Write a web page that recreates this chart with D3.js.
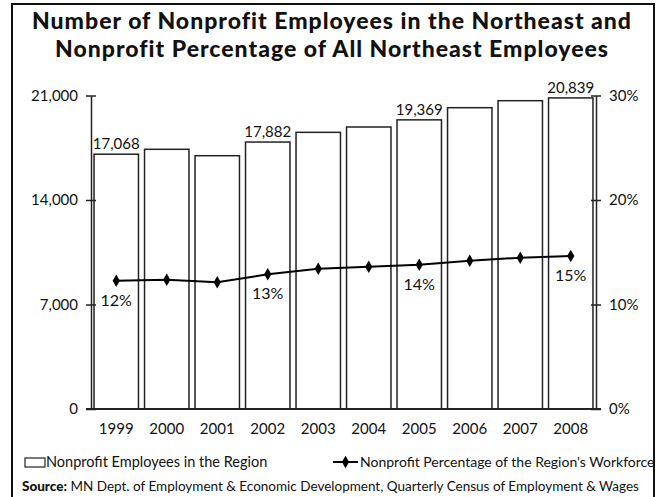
<!DOCTYPE html>
<html>
<head>
<meta charset="utf-8">
<script src="https://cdn.jsdelivr.net/npm/d3@7"></script>
<style>
  body { margin: 0; background: #fff; overflow: hidden; }
  svg { display: block; }
  text { font-family: Lato, "Noto Sans", sans-serif; fill: #111; }
</style>
</head>
<body>
<svg id="chart"></svg>
<script>
// Data
const years = ["1999", "2000", "2001", "2002", "2003", "2004", "2005", "2006", "2007", "2008"];
const employees = [17068, 17396, 16967, 17882, 18532, 18890, 19369, 20183, 20651, 20839];
const percent = [12.28, 12.37, 12.12, 12.89, 13.43, 13.62, 13.81, 14.19, 14.48, 14.64];
const labeledYears = ["1999", "2002", "2005", "2008"];
const leftTicks = [0, 7000, 14000, 21000];
const rightTicks = [0, 10, 20, 30];

const width = 661;
const height = 497;
const margin = { top: 95.5, right: 65, bottom: 88, left: 91 };

const svg = d3.select("#chart").attr("width", width).attr("height", height);

// outer frame
svg.append("rect")
  .attr("x", 12).attr("y", 4)
  .attr("width", 642).attr("height", 500)
  .attr("fill", "none").attr("stroke", "#111").attr("stroke-width", 2);

// title
const titleLines = [
  "Number of Nonprofit Employees in the Northeast and",
  "Nonprofit Percentage of All Northeast Employees"
];
svg.selectAll(".title")
  .data(titleLines)
  .enter()
  .append("text")
  .attr("class", "title")
  .attr("x", 332)
  .attr("y", (d, i) => 29 + i * 28)
  .attr("text-anchor", "middle")
  .style("font-size", "23px")
  .style("font-weight", "900")
  .style("letter-spacing", "1px")
  .text((d) => d);

const x = d3.scaleBand()
  .domain(years)
  .range([margin.left, width - margin.right])
  .paddingInner(0.12)
  .paddingOuter(0.06);

const yLeft = d3.scaleLinear().domain([0, 21000]).range([height - margin.bottom, margin.top]);
const yRight = d3.scaleLinear().domain([0, 30]).range([height - margin.bottom, margin.top]);

// bars
svg.selectAll(".bar")
  .data(years)
  .enter()
  .append("rect")
  .attr("class", "bar")
  .attr("x", (d) => x(d))
  .attr("y", (d, i) => yLeft(employees[i]))
  .attr("width", x.bandwidth())
  .attr("height", (d, i) => yLeft(0) - yLeft(employees[i]))
  .attr("fill", "#fff")
  .attr("stroke", "#222")
  .attr("stroke-width", 1.5);

// bar value labels
svg.selectAll(".barLabel")
  .data(years.filter((d) => labeledYears.includes(d)))
  .enter()
  .append("text")
  .attr("x", (d) => x(d) + x.bandwidth() / 2)
  .attr("y", (d) => yLeft(employees[years.indexOf(d)]) - 5)
  .attr("text-anchor", "middle")
  .style("font-size", "15px")
  .text((d) => d3.format(",")(employees[years.indexOf(d)]));

// axes
const axisLeft = svg.append("g")
  .attr("transform", `translate(${margin.left},0)`)
  .call(d3.axisLeft(yLeft).tickValues(leftTicks).tickFormat(d3.format(",")).tickSize(5).tickSizeOuter(0).tickPadding(8));

const axisRight = svg.append("g")
  .attr("transform", `translate(${width - margin.right},0)`)
  .call(d3.axisRight(yRight).tickValues(rightTicks).tickFormat((d) => d + "%").tickSize(5).tickSizeOuter(0).tickPadding(8));

[axisLeft, axisRight].forEach((g) => {
  g.select(".domain").attr("stroke", "#222").attr("stroke-width", 1.5);
  g.selectAll(".tick line").attr("stroke", "#222").attr("stroke-width", 1.5)
    .attr("x1", -5).attr("x2", 5);
  g.selectAll(".tick text").style("font-size", "15px").style("font-family", "Lato, sans-serif").attr("fill", "#111");
});

// baseline
svg.append("line")
  .attr("x1", margin.left - 5).attr("x2", width - margin.right + 5)
  .attr("y1", yLeft(0)).attr("y2", yLeft(0))
  .attr("stroke", "#222").attr("stroke-width", 2);

// year labels
svg.append("g")
  .attr("transform", `translate(0,${yLeft(0)})`)
  .call(d3.axisBottom(x).tickSize(0).tickPadding(14))
  .call((g) => g.select(".domain").remove())
  .selectAll("text")
  .style("font-size", "15px")
  .style("font-family", "Lato, sans-serif")
  .attr("fill", "#111");

// percentage line
const line = d3.line()
  .x((d, i) => x(years[i]) + x.bandwidth() / 2)
  .y((d) => yRight(d));

svg.append("path")
  .datum(percent)
  .attr("d", line)
  .attr("fill", "none")
  .attr("stroke", "#000")
  .attr("stroke-width", 2);

svg.selectAll(".point")
  .data(percent)
  .enter()
  .append("path")
  .attr("transform", (d, i) => `translate(${x(years[i]) + x.bandwidth() / 2},${yRight(d)})`)
  .attr("d", d3.symbol().type(d3.symbolDiamond).size(45))
  .attr("fill", "#000");

svg.selectAll(".pctLabel")
  .data(years.filter((d) => labeledYears.includes(d)))
  .enter()
  .append("text")
  .attr("x", (d) => x(d) + x.bandwidth() / 2)
  .attr("y", (d) => yRight(percent[years.indexOf(d)]) + 25)
  .attr("text-anchor", "middle")
  .style("font-size", "16px")
  .text((d) => Math.round(percent[years.indexOf(d)]) + "%");

// legend
const legendY = 462;
svg.append("rect")
  .attr("x", 25).attr("y", legendY - 4)
  .attr("width", 20).attr("height", 9)
  .attr("fill", "#fff").attr("stroke", "#222").attr("stroke-width", 1.2);
svg.append("text")
  .attr("x", 46).attr("y", legendY + 5)
  .style("font-size", "14.5px")
  .text("Nonprofit Employees in the Region");

svg.append("line")
  .attr("x1", 333).attr("x2", 358)
  .attr("y1", legendY).attr("y2", legendY)
  .attr("stroke", "#000").attr("stroke-width", 2);
svg.append("path")
  .attr("transform", `translate(345.5,${legendY})`)
  .attr("d", d3.symbol().type(d3.symbolDiamond).size(45))
  .attr("fill", "#000");
svg.append("text")
  .attr("x", 360).attr("y", legendY + 5)
  .style("font-size", "14px")
  .text("Nonprofit Percentage of the Region's Workforce");

// source
const source = svg.append("text")
  .attr("x", 22).attr("y", 491)
  .style("font-size", "13.5px");
source.append("tspan").style("font-weight", "900").text("Source:");
source.append("tspan").text(" MN Dept. of Employment & Economic Development, Quarterly Census of Employment & Wages");
</script>
</body>
</html>
